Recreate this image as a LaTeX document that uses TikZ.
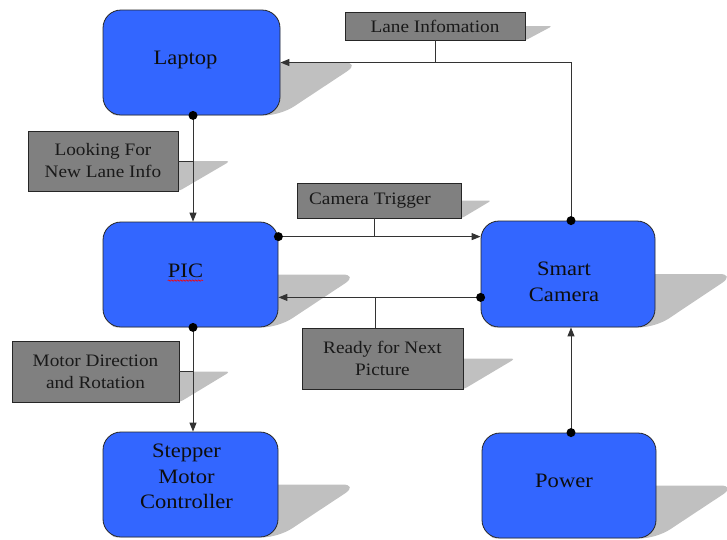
\documentclass[tikz,border=0pt]{standalone}
\usepackage{fontspec}
\setmainfont[FakeStretch=1.1]{Liberation Serif}
\usetikzlibrary{arrows.meta,calc,decorations.pathmorphing}
\definecolor{boxblue}{RGB}{51,102,255}
\definecolor{labelgray}{RGB}{128,128,128}
\definecolor{shadegray}{RGB}{192,192,192}
\pgfdeclarelayer{background}
\pgfsetlayers{background,main}

\tikzset{
  unitbox/.style={draw=black!85, line width=0.8pt, fill=boxblue, rounded corners=18pt, inner sep=0pt},
  unittext/.style={align=center, font=\fontsize{20.5}{25.5}\selectfont, text=black!95, inner sep=0pt},
  tagbox/.style={draw=black!85, line width=0.8pt, fill=labelgray, align=center,
    font=\fontsize{17.5}{22}\selectfont, text=black!90, inner sep=0pt},
  link/.style={draw=black!80, line width=1pt},
  flow/.style={link, -{Triangle[length=9pt,width=7pt]}},
  tap/.style={circle, fill=black, inner sep=0pt, minimum size=9pt},
}

% cast shadow: lower half of a box, sheared to the right
\newcommand\castshade[3]{%
  \fill[shadegray, rounded corners=#3]
    (#1.south west) -- (#1.south east) -- ($(#1.east)+(#2,0)$) -- ($(#1.west)+(#2,0)$) -- cycle;}

\begin{document}
\begin{tikzpicture}[x=1pt, y=-1pt]
  \clip (0,0) rectangle (727,539);
  \useasboundingbox (0,0) rectangle (727,539);

  % main units
  \node[unitbox, minimum width=177pt, minimum height=105pt] (laptop)  at (191.5,62.5) {};
  \node[unitbox, minimum width=175pt, minimum height=105pt] (pic)     at (190.5,274.5) {};
  \node[unitbox, minimum width=175pt, minimum height=105pt] (stepper) at (190.5,484.5) {};
  \node[unitbox, minimum width=174pt, minimum height=106pt] (camera)  at (568,274) {};
  \node[unitbox, minimum width=174pt, minimum height=105pt] (power)   at (569,485.5) {};

  \node[unittext] (laptoptext)  at ($(laptop.center)+(-6,-3)$) {Laptop};
  \node[unittext] (pictext)     at ($(pic.center)+(-5,-4)$) {PIC};
  \node[unittext] (steppertext) at ($(stepper.center)+(-4,-8)$) {Stepper\\Motor\\Controller};
  \node[unittext] (cameratext)  at ($(camera.center)+(-4,8)$) {Smart\\Camera};
  \node[unittext] (powertext)   at ($(power.center)+(-5,-5)$) {Power};

  % signal labels
  \node[tagbox, minimum width=180pt, minimum height=28pt] (lane)  at (435,26) {Lane Infomation};
  \node[tagbox, minimum width=150pt, minimum height=60pt] (look)  at (103,161) {Looking For\\New Lane Info};
  \node[tagbox, minimum width=164pt, minimum height=35pt] (trig)  at (379,200.5) {\hspace*{-18pt}Camera Trigger};
  \node[tagbox, minimum width=161pt, minimum height=61pt] (ready) at (382.5,358.5) {Ready for Next\\Picture};
  \node[tagbox, minimum width=167pt, minimum height=61pt] (motor) at (95.5,371.5) {Motor Direction\\and Rotation};

  % spell-check mark under PIC
  \draw[red, line width=0.6pt, decorate, decoration={snake, amplitude=0.7pt, segment length=3pt}]
    ($(pictext.south west)+(0,3)$) -- ($(pictext.south east)+(0,3)$);

  % shadows
  \begin{pgfonlayer}{background}
    \castshade{laptop}{80}{16pt}
    \castshade{pic}{80}{16pt}
    \castshade{stepper}{80}{16pt}
    \castshade{camera}{80}{16pt}
    \castshade{power}{80}{16pt}
    \castshade{lane}{27}{3pt}
    \castshade{look}{52}{4pt}
    \castshade{trig}{30}{3pt}
    \castshade{ready}{52}{4pt}
    \castshade{motor}{51}{4pt}
  \end{pgfonlayer}

  % connection points
  \coordinate (picout) at ($(pic.north east)+(0,15)$);
  \coordinate (camout) at ($(camera.south west)+(0,-30)$);
  \coordinate (lapbot) at ($(laptop.south)+(1.5,0)$);
  \coordinate (pictop) at (lapbot |- pic.north);
  \coordinate (picbot) at ($(pic.south)+(2.5,0)$);
  \coordinate (steptop) at (picbot |- stepper.north);
  \coordinate (powtop) at ($(power.north)+(2,0)$);
  \coordinate (cambot) at (powtop |- camera.south);
  \coordinate (camtop) at ($(camera.north)+(3,0)$);

  % connectors
  \draw[flow] (lapbot) -- (pictop);
  \draw[flow] (picout) -- (picout -| camera.west);
  \draw[flow] (camout) -- (camout -| pic.east);
  \draw[flow] (picbot) -- (steptop);
  \draw[flow] (powtop) -- (cambot);
  \draw[flow] (camtop) |- (laptop.east);

  % label stems
  \draw[link] (lane.south) -- (lane.south |- laptop.east);
  \draw[link] (look.east) -- (look.east -| lapbot);
  \draw[link] ($(trig.south)+(-5,0)$) -- ($(trig.south |- picout)+(-5,0)$);
  \draw[link] ($(ready.north)+(-7.5,0)$) -- ($(ready.north |- camout)+(-7.5,0)$);
  \draw[link] (motor.east) -- (motor.east -| picbot);

  % source dots
  \node[tap] (d1) at (lapbot) {};
  \node[tap] (d2) at (picout) {};
  \node[tap] (d3) at (camout) {};
  \node[tap] (d4) at (picbot) {};
  \node[tap] (d5) at (powtop) {};
  \node[tap] (d6) at (camtop) {};
\end{tikzpicture}
\end{document}
